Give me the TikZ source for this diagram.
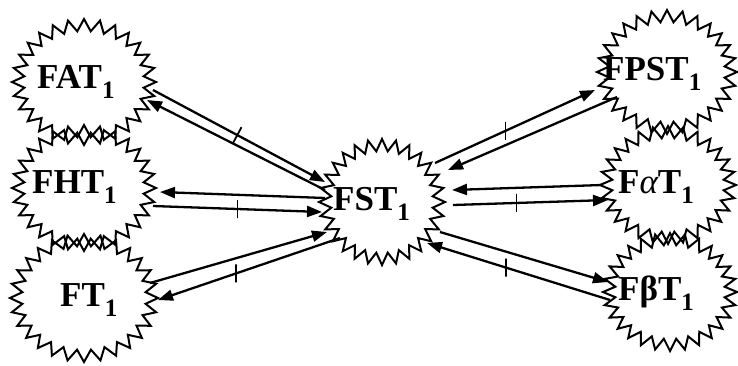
\documentclass[tikz,border=0pt]{standalone}
\usepackage{fontspec}
\setmainfont{Liberation Serif}
\usetikzlibrary{arrows.meta,calc}

% lowered index digit
\newcommand\lowsub[1]{\raisebox{-10pt}{\fontsize{25}{25}\selectfont #1}}
% named centre plus a zigzag outline round it:
% name, x, y, x radius, y radius, number of corners (even)
\newcommand\starnode[6]{%
  \node[hub] (#1) at (#2,#3) {};
  \gdef\zzpath{}%
  \pgfmathtruncatemacro\zzlast{#6-1}%
  \foreach \i in {0,...,\zzlast}{%
    \ifodd\i \def\zzd{12}\else\def\zzd{0}\fi
    \pgfmathsetmacro\zzang{360/#6*\i}%
    \pgfmathsetmacro\zzx{#2+(#4-\zzd)*cos(\zzang)}%
    \pgfmathsetmacro\zzy{#3+(#5-\zzd)*sin(\zzang)}%
    \xdef\zzpath{\zzpath(\zzx,\zzy)}%
  }%
  \edef\zzcmd{\noexpand\draw[zig] plot coordinates {\zzpath} -- cycle;}%
  \zzcmd}

\tikzset{
  hub/.style={inner sep=0pt, minimum size=0pt},
  zig/.style={line width=2pt, line join=miter},
  lbl/.style={anchor=base west, inner sep=0pt, font=\bfseries\fontsize{35}{35}\selectfont},
  link/.style={line width=2.3pt, -{Triangle[length=15pt,width=11pt]}},
  tickmark/.style={draw, line width=1.8pt, inner sep=0pt, minimum width=0pt, minimum height=18pt}
}

\begin{document}
\begin{tikzpicture}[x=1pt,y=-1pt]
\useasboundingbox (0,0) rectangle (738,365);

% starbursts
\starnode{fat}{84}{82}{72}{63}{56}
\starnode{fht}{84}{188}{72}{63}{56}
\starnode{ft}{84}{298}{74}{64}{56}
\starnode{fst}{382}{202}{63}{63}{56}
\starnode{fpst}{667}{72}{70}{62}{56}
\starnode{falt}{668}{185}{68}{59}{56}
\starnode{fbet}{670}{292}{67}{59}{56}

% labels
\node[lbl] at (37,88)   {FAT\lowsub{1}};
\node[lbl] at (32,193)  {FHT\lowsub{1}};
\node[lbl] at (60,306)  {FT\lowsub{1}};
\node[lbl] at (333,210) {FST\lowsub{1}};
\node[lbl] at (603,80)  {FPST\lowsub{1}};
\node[lbl] at (618,193) {F{\mdseries\itshape α}T\lowsub{1}};
\node[lbl] at (618,300) {FβT\lowsub{1}};

% left pairs
\draw[link] ($(fat)+(69,8)$) -- node[pos=0.49,sloped,tickmark]{} ($(fst)+(-57,-20)$);
\draw[link] ($(fst)+(-57,-12)$) -- ($(fat)+(63,18)$);

\draw[link] ($(fst)+(-57,-4)$) -- ($(fht)+(76,4)$);
\draw[link] ($(fht)+(69,18)$) -- node[pos=0.5,tickmark]{} ($(fst)+(-60,10)$);

\draw[link] ($(ft)+(66,-15)$) -- ($(fst)+(-55,30)$);
\draw[link] ($(fst)+(-42,36)$) -- node[pos=0.57,tickmark]{} ($(ft)+(74,2)$);

% right pairs
\draw[link] ($(fst)+(53,-39)$) -- node[pos=0.44,tickmark]{} ($(fpst)+(-72,18)$);
\draw[link] ($(fpst)+(-50,25)$) -- ($(fst)+(66,-32)$);

\draw[link] ($(falt)+(-66,0)$) -- ($(fst)+(70,-12)$);
\draw[link] ($(fst)+(71,3)$) -- node[pos=0.41,tickmark]{} ($(falt)+(-60,15)$);

\draw[link] ($(fst)+(58,30)$) -- ($(fbet)+(-62,-10)$);
\draw[link] ($(fbet)+(-60,8)$) -- node[pos=0.57,tickmark]{} ($(fst)+(45,41)$);
\end{tikzpicture}
\end{document}
